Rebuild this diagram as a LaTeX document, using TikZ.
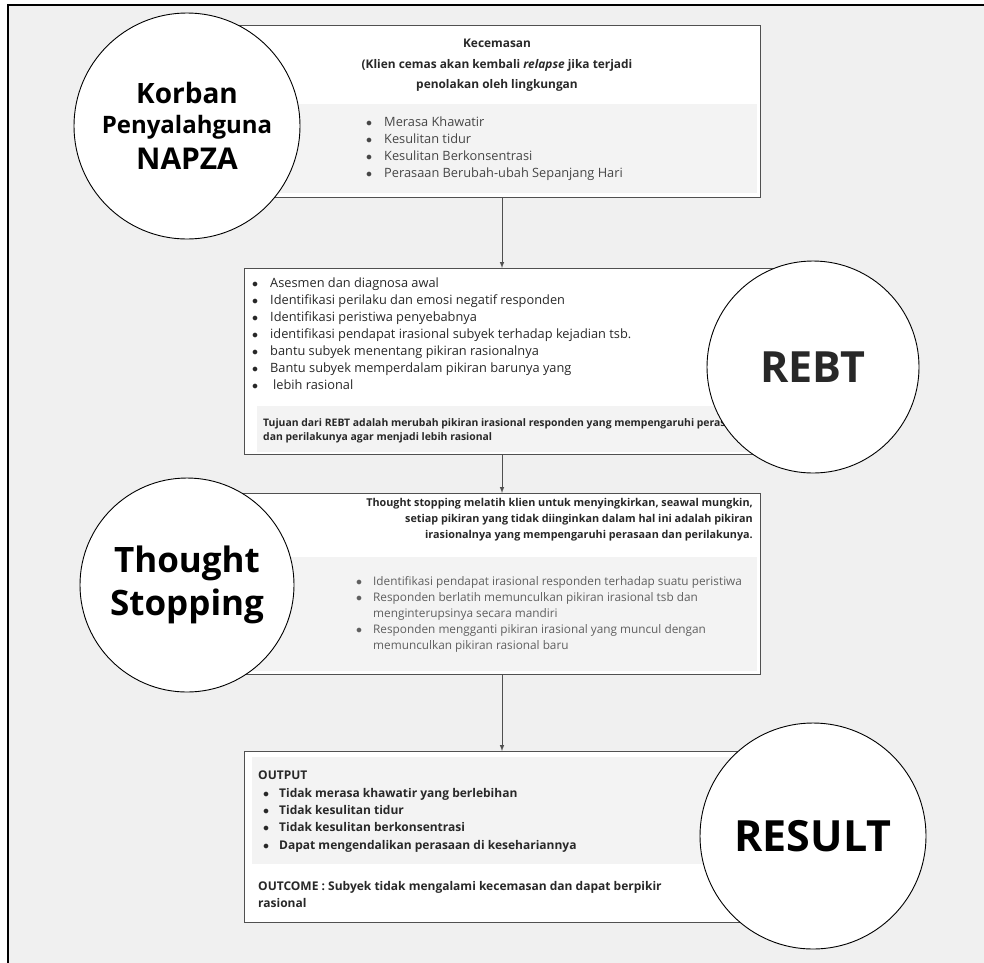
\documentclass[tikz,border=0pt]{standalone}
\usepackage{fontspec}
\setmainfont{Open Sans}
\definecolor{pagebg}{RGB}{240,240,240}
\definecolor{panelbg}{RGB}{243,243,243}
\definecolor{boxline}{RGB}{80,80,80}
\definecolor{inkdark}{RGB}{40,40,40}
\definecolor{inkmid}{RGB}{70,70,70}
\definecolor{inklight}{RGB}{95,95,95}
\newcommand{\bul}[1][18pt]{\makebox[#1][l]{$\bullet$}}

\begin{document}
\begin{tikzpicture}
[every node/.style={inner sep=0pt},
 flowbox/.style={rectangle, fill=white, draw=boxline, line width=1.3pt, anchor=north west},
 panel/.style={rectangle, fill=panelbg, anchor=north west},
 titlecircle/.style={circle, fill=white, draw=black, line width=0.9pt, text=black, align=center},
 txt/.style={align=left, anchor=north west},
 flow/.style={line width=1pt, -latex, color=boxline}]
\useasboundingbox (0pt, 0pt) rectangle (984pt, -962pt);
\fill [white] (0pt, 0pt) rectangle (984pt, -962pt);
\fill [pagebg] (8pt, -5pt) rectangle (1000pt, -1000pt);
\draw [line width=2.2pt] (8pt, -1000pt) |- (1000pt, -5pt);
\coordinate (axis) at (502pt, 0pt);
% boxes
\node (b1) [flowbox, minimum width=580pt, minimum height=172pt] at (180pt, -25pt) {};
\node (p1) [panel, minimum width=557pt, minimum height=89pt] at (200pt, -104pt) {};
\node (b2) [flowbox, minimum width=556pt, minimum height=186pt] at (244pt, -268pt) {};
\node (p2) [panel, minimum width=533pt, minimum height=46pt] at (257pt, -406pt) {};
\node (b3) [flowbox, minimum width=580pt, minimum height=181pt] at (180pt, -493pt) {};
\node (p3) [panel, minimum width=557pt, minimum height=114pt] at (200pt, -557pt) {};
\node (b4) [flowbox, minimum width=556pt, minimum height=171pt] at (244pt, -751pt) {};
\node (p4) [panel, minimum width=538pt, minimum height=107pt] at (252pt, -757pt) {};
% texts
\node (kecemasan) [align=center, anchor=north, font=\bfseries\fontsize{11.9}{20.3}\selectfont, text=inkdark] at (497pt, -39.2pt)
  {Kecemasan\\(Klien cemas akan kembali \textit{relapse} jika terjadi\\penolakan oleh lingkungan};
\node (gejala) [txt, font=\fontsize{12.8}{17}\selectfont, text=inkmid] at (366pt, -116.3pt)
  {\bul Merasa Khawatir\\\bul Kesulitan tidur\\\bul Kesulitan Berkonsentrasi\\\bul Perasaan Berubah-ubah Sepanjang Hari};
\node (tahapan) [txt, font=\fontsize{12.8}{17}\selectfont, text=inkdark] at (252pt, -277.6pt)
  {\bul Asesmen dan diagnosa awal\\\bul Identifikasi perilaku dan emosi negatif responden\\\bul Identifikasi peristiwa penyebabnya\\
   \bul identifikasi pendapat irasional subyek terhadap kejadian tsb.\\\bul bantu subyek menentang pikiran rasionalnya\\
   \bul Bantu subyek memperdalam pikiran barunya yang\\\bul\hspace{3pt}lebih rasional};
\node (tujuan) [txt, font=\bfseries\fontsize{10.4}{14}\selectfont, text=inkdark] at (263pt, -418pt)
  {Tujuan dari REBT adalah merubah pikiran irasional responden yang mempengaruhi perasaan\\dan perilakunya agar menjadi lebih rasional};
\node (definisi) [align=right, anchor=north east, font=\bfseries\fontsize{10.8}{15.8}\selectfont, text=inkdark] at (753pt, -498.5pt)
  {Thought stopping melatih klien untuk menyingkirkan, seawal mungkin,\\setiap pikiran yang tidak diinginkan dalam hal ini adalah pikiran\\irasionalnya yang mempengaruhi perasaan dan perilakunya.};
\node (latihan) [txt, font=\fontsize{11.8}{16}\selectfont, text=inklight] at (356pt, -576pt)
  {\bul[17pt]Identifikasi pendapat irasional responden terhadap suatu peristiwa\\\bul[17pt]Responden berlatih memunculkan pikiran irasional tsb dan\\\hspace*{17pt}menginterupsinya secara mandiri\\
   \bul[17pt]Responden mengganti pikiran irasional yang muncul dengan\\\hspace*{17pt}memunculkan pikiran rasional baru};
\node (output) [txt, font=\bfseries\fontsize{12}{17.3}\selectfont, text=inkdark] at (258pt, -771pt)
  {OUTPUT\\\hspace*{5pt}\bul[16pt]Tidak merasa khawatir yang berlebihan\\\hspace*{5pt}\bul[16pt]Tidak kesulitan tidur\\
   \hspace*{5pt}\bul[16pt]Tidak kesulitan berkonsentrasi\\\hspace*{5pt}\bul[16pt]Dapat mengendalikan perasaan di kesehariannya};
\node (outcome) [txt, font=\bfseries\fontsize{12}{17}\selectfont, text=inkdark] at (258pt, -881.6pt)
  {OUTCOME : Subyek tidak mengalami kecemasan dan dapat berpikir\\rasional};
% circles
\node (korban) [titlecircle, minimum size=226pt, font=\bfseries\fontsize{28}{33}\selectfont] at (187pt, -126pt)
  {Korban\\[-2.4pt]\fontsize{24}{33}\selectfont Penyalahguna\\[3pt]\fontsize{30}{33}\selectfont NAPZA};
\node (rebt) [titlecircle, minimum size=212pt, font=\bfseries\fontsize{43}{50}\selectfont, text=inkdark] at (813pt, -367pt) {REBT};
\node (stopping) [titlecircle, minimum size=214pt, font=\bfseries\fontsize{35}{43}\selectfont] at (187pt, -585pt)
  {Thought\\Stopping};
\node (result) [titlecircle, minimum size=226pt, font=\bfseries\fontsize{43}{50}\selectfont] at (813pt, -836pt) {RESULT};
% arrows
\draw [flow] (b1.south -| axis) -- (b2.north -| axis);
\draw [flow] (b2.south -| axis) -- (b3.north -| axis);
\draw [flow] (b3.south -| axis) -- (b4.north -| axis);
\end{tikzpicture}
\end{document}
